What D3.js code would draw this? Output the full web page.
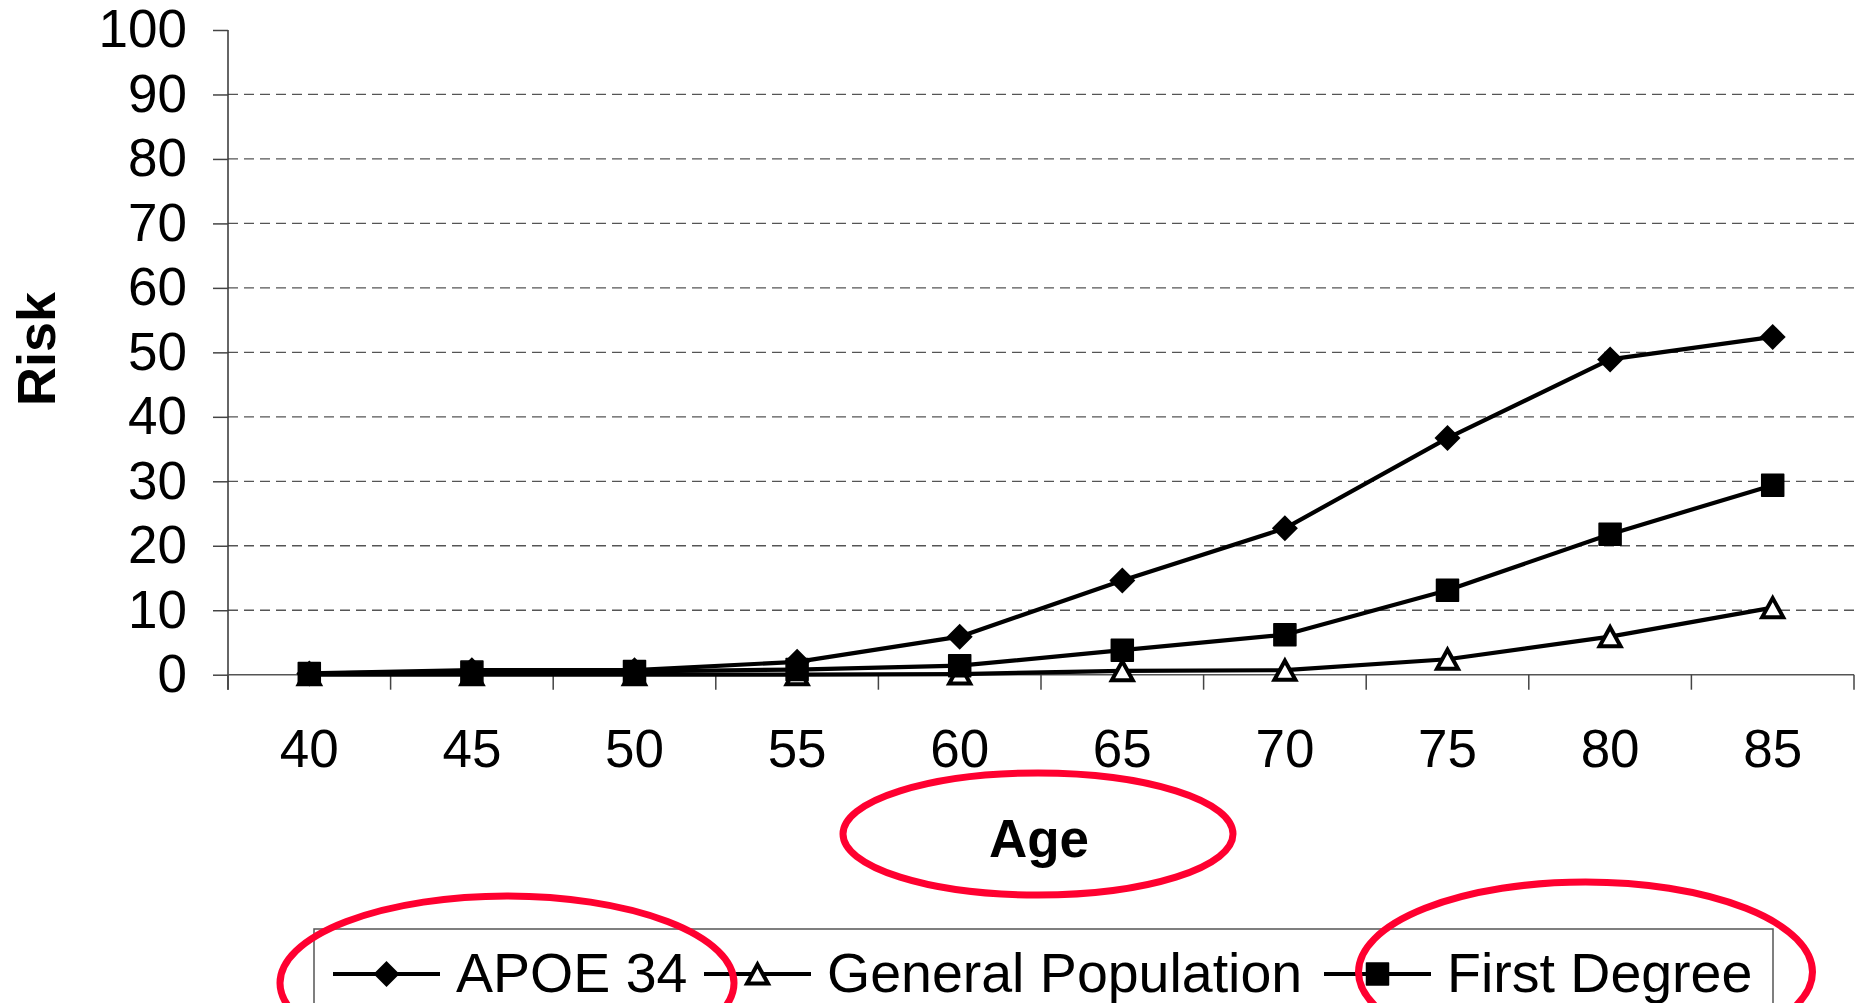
<!DOCTYPE html>
<html>
<head>
<meta charset="utf-8">
<script src="https://cdn.jsdelivr.net/npm/d3@7"></script>
<style>
  html, body { margin: 0; padding: 0; background: #fff; }
  svg { display: block; }
  text { font-family: "Liberation Sans", Arial, sans-serif; fill: #000; }
</style>
</head>
<body>
<svg id="chart" width="1860" height="1003"></svg>
<script>
// ---- data ----
const ages = [40, 45, 50, 55, 60, 65, 70, 75, 80, 85];
const apoe34 = [0.2, 0.7, 0.7, 2.0, 5.9, 14.6, 22.7, 36.7, 48.9, 52.4];
const generalPopulation = [0, 0, 0, 0, 0.1, 0.6, 0.7, 2.4, 5.9, 10.4];
const firstDegree = [0.2, 0.4, 0.5, 0.8, 1.4, 3.8, 6.2, 13.1, 21.8, 29.4];
const seriesNames = ["APOE 34", "General Population", "First Degree"];
const yTicks = [0, 10, 20, 30, 40, 50, 60, 70, 80, 90, 100];
const xTitle = "Age";
const yTitle = "Risk";

// ---- layout ----
const svg = d3.select("#chart");
const plotLeft = 228, plotRight = 1854, plotTop = 30, plotBottom = 674.7;

const x = d3.scaleBand().domain(ages).range([plotLeft, plotRight]).padding(0);
const y = d3.scaleLinear().domain([0, 100]).range([plotBottom, plotTop]);
const cx = a => x(a) + x.bandwidth() / 2;

// gridlines
svg.append("g").selectAll("line")
  .data(yTicks.filter(t => t > 0 && t < 100))
  .join("line")
  .attr("x1", plotLeft).attr("x2", plotRight)
  .attr("y1", d => y(d)).attr("y2", d => y(d))
  .attr("stroke", "#555").attr("stroke-width", 1.3)
  .attr("stroke-dasharray", "10,6");

// y axis
const yAxis = svg.append("g").attr("transform", `translate(${plotLeft},0)`)
  .call(d3.axisLeft(y).tickValues(yTicks).tickSize(15).tickPadding(26).tickFormat(d3.format("d")));
yAxis.select(".domain").attr("stroke", "#333").attr("stroke-width", 1.5)
  .attr("d", `M0,${plotTop}V${plotBottom + 15}`);
yAxis.selectAll(".tick line").attr("stroke", "#444").attr("stroke-width", 1.5);
yAxis.selectAll(".tick text").style("font-size", "53px").attr("fill", "#000")
  .style("font-family", '"Liberation Sans", Arial, sans-serif');

// x axis
const xAxis = svg.append("g").attr("transform", `translate(0,${plotBottom})`)
  .call(d3.axisBottom(x).tickSize(0).tickPadding(55));
xAxis.select(".domain").remove();
xAxis.selectAll(".tick text").style("font-size", "53px").attr("fill", "#000")
  .style("font-family", '"Liberation Sans", Arial, sans-serif');
xAxis.append("line").attr("x1", plotLeft).attr("x2", plotRight).attr("y1", 0).attr("y2", 0)
  .attr("stroke", "#555").attr("stroke-width", 1.6);
const edges = ages.map(a => x(a)).concat([x.range()[1]]);
xAxis.append("g").selectAll("line").data(edges).join("line")
  .attr("x1", d => d).attr("x2", d => d).attr("y1", 0).attr("y2", 15)
  .attr("stroke", "#444").attr("stroke-width", 1.5);

// axis titles
svg.append("text").attr("x", 1039).attr("y", 857)
  .attr("text-anchor", "middle").style("font-size", "53px").style("font-weight", "bold")
  .text(xTitle);
svg.append("text").attr("transform", "translate(55,349) rotate(-90)")
  .attr("text-anchor", "middle").style("font-size", "54px").style("font-weight", "bold")
  .text(yTitle);

// markers
function drawMarker(g, type) {
  if (type === "diamond") {
    g.append("path").attr("d", "M0,-13L13,0L0,13L-13,0Z").attr("fill", "#000");
  } else if (type === "square") {
    g.append("rect").attr("x", -11).attr("y", -11).attr("width", 22).attr("height", 22)
      .attr("fill", "#000").attr("stroke", "#000").attr("stroke-width", 1.5).attr("stroke-linejoin", "round");
  } else {
    g.append("path").attr("d", "M0,-9.5L10.5,9.5L-10.5,9.5Z")
      .attr("fill", "#fff").attr("stroke", "#000").attr("stroke-width", 4).attr("stroke-linejoin", "miter");
  }
}

const series = [
  { name: seriesNames[0], values: apoe34, marker: "diamond" },
  { name: seriesNames[1], values: generalPopulation, marker: "triangle" },
  { name: seriesNames[2], values: firstDegree, marker: "square" }
];

const line = d3.line().x((d, i) => cx(ages[i])).y(d => y(d));

series.forEach(s => {
  const g = svg.append("g");
  g.append("path").attr("d", line(s.values)).attr("fill", "none")
    .attr("stroke", "#000").attr("stroke-width", 4.2).attr("stroke-linejoin", "round");
  s.values.forEach((v, i) => {
    const m = g.append("g").attr("transform", `translate(${cx(ages[i])},${y(v)})`);
    drawMarker(m, s.marker);
  });
});

// legend
const legend = svg.append("g");
legend.append("rect").attr("x", 314).attr("y", 929).attr("width", 1773 - 314).attr("height", 200)
  .attr("fill", "none").attr("stroke", "#555").attr("stroke-width", 1.5);
const legendX = [333, 704, 1324];
series.forEach((s, i) => {
  const g = legend.append("g").attr("transform", `translate(${legendX[i]},974)`);
  g.append("line").attr("x1", 0).attr("x2", 107).attr("y1", 0).attr("y2", 0)
    .attr("stroke", "#000").attr("stroke-width", 4);
  const m = g.append("g").attr("transform", "translate(53.5,0)");
  drawMarker(m, s.marker);
  g.append("text").attr("x", 123).attr("y", 18).style("font-size", "55.5px").text(s.name);
});

// red annotation ellipses
const ellipses = [
  { cx: 1038, cy: 834, rx: 195, ry: 61 },
  { cx: 507, cy: 983, rx: 227, ry: 87 },
  { cx: 1585.5, cy: 972, rx: 227, ry: 90 }
];
svg.append("g").selectAll("ellipse").data(ellipses).join("ellipse")
  .attr("cx", d => d.cx).attr("cy", d => d.cy).attr("rx", d => d.rx).attr("ry", d => d.ry)
  .attr("fill", "none").attr("stroke", "#ff0030").attr("stroke-width", 7);
</script>
</body>
</html>
